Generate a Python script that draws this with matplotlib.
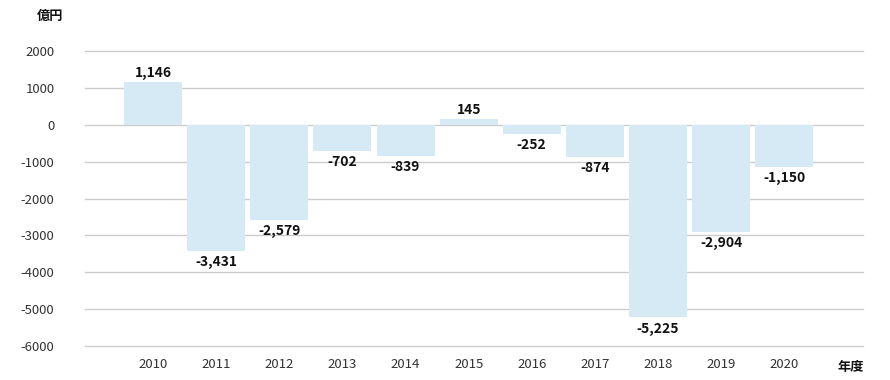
import matplotlib.pyplot as plt
import numpy as np

plt.rcParams['font.family'] = ['Noto Sans CJK JP', 'DejaVu Sans']

# ── データ ────────────────────────────────────────────────
years = ["2010", "2011", "2012", "2013", "2014", "2015",
         "2016", "2017", "2018", "2019", "2020"]
values = [1146, -3431, -2579, -702, -839, 145, -252, -874, -5225, -2904, -1150]
yticks = [2000, 1000, 0, -1000, -2000, -3000, -4000, -5000, -6000]

bar_color = "#d5eaf5"
grid_color = "#cccccc"
text_color = "#333333"

fig = plt.figure(figsize=(8.9, 3.8), dpi=100)
ax = fig.add_axes([85 / 890, 1 - 346 / 380, (863 - 85) / 890, (346 - 51) / 380])

x = np.arange(len(years))
ax.bar(x, values, width=0.92, color=bar_color, zorder=2)

ax.set_ylim(-6000, 2000)
ax.set_xlim(-1.08, 11.25)
ax.set_yticks(yticks)
ax.set_yticklabels([str(v) for v in yticks], fontsize=9.5, color=text_color)
ax.set_xticks(x)
ax.set_xticklabels(years, fontsize=9.5, color=text_color)
ax.tick_params(axis="both", length=0)
ax.tick_params(axis="y", pad=22)
ax.tick_params(axis="x", pad=9)
ax.grid(axis="y", color=grid_color, linewidth=1, zorder=0)
for gl in ax.get_ygridlines():
    gl.set_clip_on(False)
for s in ax.spines.values():
    s.set_visible(False)

# 値ラベル
for xi, v in zip(x, values):
    if v >= 0:
        ax.annotate(f"{v:,}", (xi, v), xytext=(0, 4), textcoords="offset points",
                    ha="center", va="baseline",
                    fontsize=10, fontweight="bold", color="#111111")
    else:
        ax.annotate(f"{v:,}", (xi, v), xytext=(0, -3), textcoords="offset points",
                    ha="center", va="top",
                    fontsize=10, fontweight="bold", color="#111111")

fig.text(63 / 890, 1 - 16 / 380, "億円", ha="right", va="center",
         fontsize=9.5, fontweight="bold", color="#111111")
fig.text(851 / 890, 1 - 367 / 380, "年度", ha="center", va="center",
         fontsize=9.5, fontweight="bold", color="#111111")

fig.savefig("out.png", dpi=100)
